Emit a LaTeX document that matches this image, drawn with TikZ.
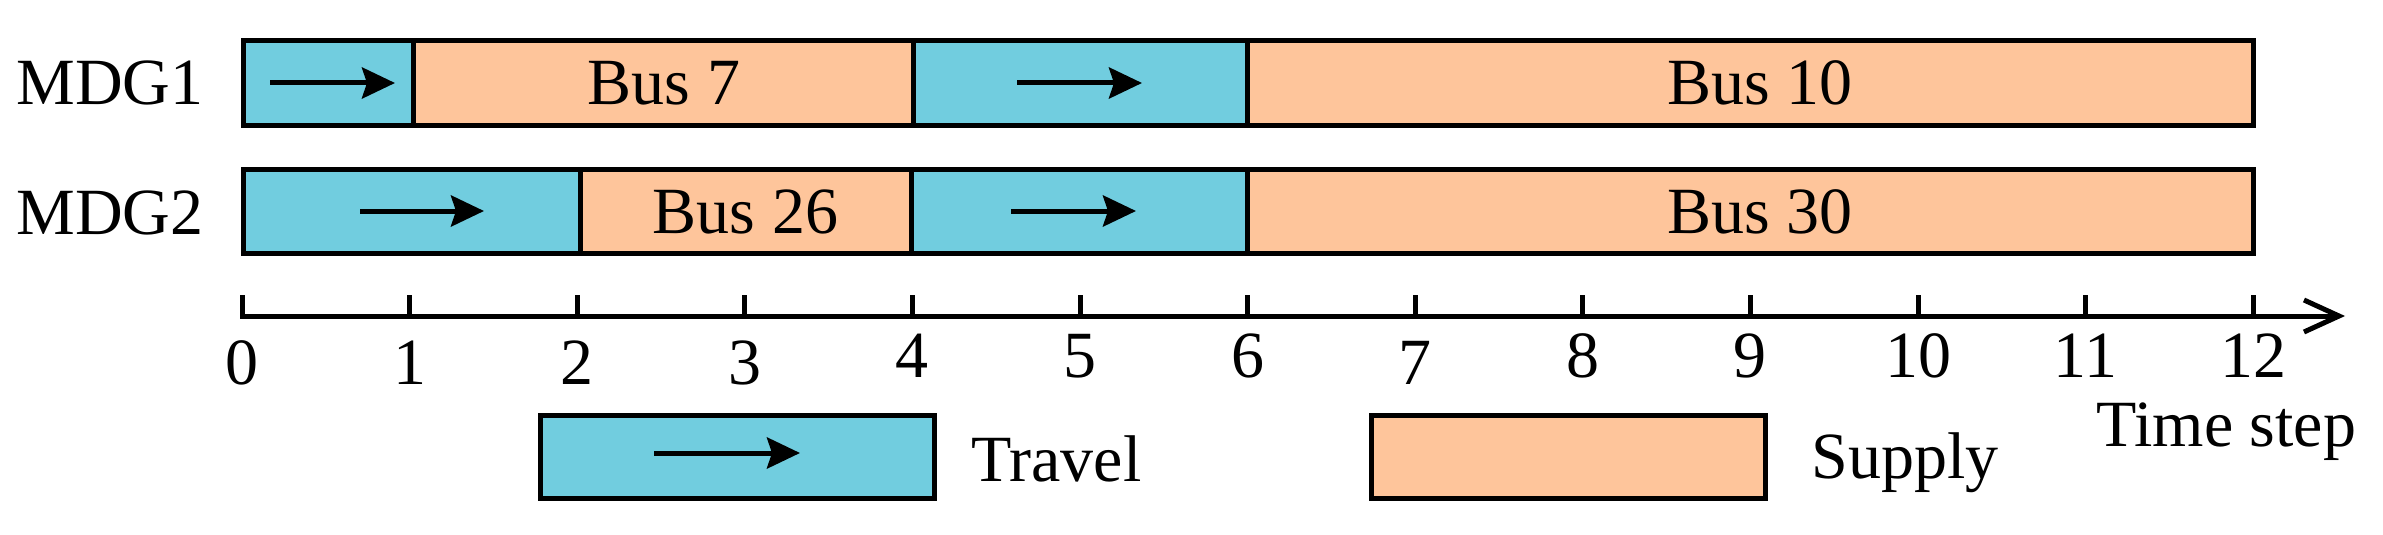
\documentclass[tikz,border=0pt]{standalone}
\usepackage{fontspec}
\setmainfont{Liberation Serif}
\usetikzlibrary{arrows.meta}
\definecolor{travelc}{HTML}{71CDDF}
\definecolor{supplyc}{HTML}{FEC59B}
\begin{document}
\begin{tikzpicture}[x=1pt,y=-1pt,line width=5pt,
  seg/.style={draw,line width=5pt,inner sep=0pt,minimum height=84pt},
  travel/.style={seg,fill=travelc},
  supply/.style={seg,fill=supplyc},
  lbl/.style={inner sep=0pt,anchor=base,font=\fontsize{66}{79}\selectfont},
  lblw/.style={lbl,anchor=base west},
  mv/.style={-{Stealth[length=33pt,width=31pt,inset=5pt]},line width=5pt},
  tick/.style={line width=5pt}]
\useasboundingbox (0,0) rectangle (2383,535);
% row labels
\node[lblw] (r1) at (14,104) {MDG1};
\node[lblw] (r2) at (14,234) {MDG2};
% MDG1 row
\node[travel,minimum width=170pt] (a1) at (328,83) {};
\node[supply,minimum width=500pt] (a2) at (663,83) {};
\node[travel,minimum width=334pt] (a3) at (1080,83) {};
\node[supply,minimum width=1006pt] (a4) at (1750,83) {};
% MDG2 row
\node[travel,minimum width=337pt] (b1) at (411.5,211) {};
\node[supply,minimum width=331pt] (b2) at (745.5,211) {};
\node[travel,minimum width=336pt] (b3) at (1079,211) {};
\node[supply,minimum width=1006pt] (b4) at (1750,211) {};
% texts
\node[lbl] (t7) at (664,104) {Bus 7};
\node[lbl] (t10) at (1760,104) {Bus 10};
\node[lbl] (t26) at (745.5,233) {Bus 26};
\node[lbl] (t30) at (1760,233) {Bus 30};
% travel arrows
\draw[mv] ([xshift=-58pt]a1.center) -- ([xshift=67pt]a1.center);
\draw[mv] ([xshift=-63pt]a3.center) -- ([xshift=62pt]a3.center);
\draw[mv] ([xshift=-51.5pt]b1.center) -- ([xshift=72.5pt]b1.center);
\draw[mv] ([xshift=-68pt]b3.center) -- ([xshift=57pt]b3.center);
% time axis
\coordinate (ax0) at (240,316);
\coordinate (ax1) at (2345,316);
\draw[-{Straight Barb[length=35pt,width=32pt]},line width=5pt] (ax0) -- (ax1);
\foreach \i in {0,...,12}{
  \draw[tick] (242+167.6*\i,316) -- ++(0,-21);
}
\foreach \i in {0,1,2,3,7}{
  \node[lbl] at (242+167.6*\i,384) {\i};
}
\foreach \i in {4,5,6,8,9,10,11,12}{
  \node[lbl] at (242+167.6*\i,377) {\i};
}
\node[lblw] (ts) at (2094,446) {Time step};
% legend
\node[travel,minimum width=394pt,minimum height=83pt] (lt) at (737,456.5) {};
\draw[mv] ([xshift=-83pt,yshift=3.5pt]lt.center) -- ([xshift=63pt,yshift=3.5pt]lt.center);
\node[lblw] (ltt) at (969,481) {Travel};
\node[supply,minimum width=394pt,minimum height=83pt] (ls) at (1568,456.5) {};
\node[lblw] (lst) at (1809,478) {Supply};
\end{tikzpicture}
\end{document}
